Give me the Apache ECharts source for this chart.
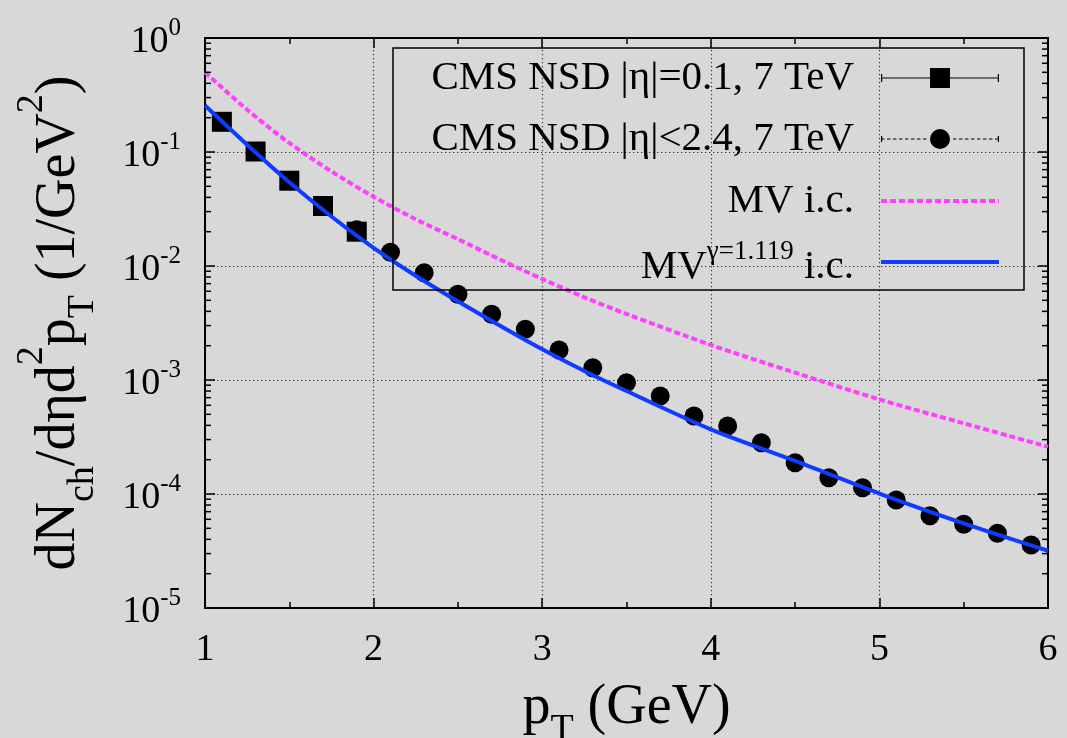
<!DOCTYPE html>
<html>
<head>
<meta charset="utf-8">
<script src="https://cdn.jsdelivr.net/npm/echarts@6/dist/echarts.min.js"></script>
<style>
html,body{margin:0;padding:0;background:#d8d8d8;}
#chart{width:1067px;height:738px;}
</style>
</head>
<body>
<div id="chart"></div>
<script>
// ---- data ----
const squareX = [1.1, 1.3, 1.5, 1.7, 1.9];
const squareY = [0.184, 0.101, 0.056, 0.0336, 0.020];

const circleX = [1.9, 2.1, 2.3, 2.5, 2.7, 2.9, 3.1, 3.3, 3.5, 3.7, 3.9, 4.1, 4.3, 4.5, 4.7, 4.9, 5.1, 5.3, 5.5, 5.7, 5.9];
const circleY = [0.0208, 0.0132, 0.00873, 0.00565, 0.00377, 0.00279, 0.00183, 0.00128, 0.000948, 0.000724,
                 0.000483, 0.000395, 0.000282, 0.000188, 0.000139, 0.0001135, 0.0000885, 0.0000645,
                 0.0000542, 0.0000452, 0.0000357];

const curveX = [1.0, 1.25, 1.5, 1.75, 2.0, 2.25, 2.5, 2.75, 3.0, 3.25, 3.5, 4.0, 4.5, 5.0, 5.5, 6.0];
const mvY = [0.50, 0.235, 0.12, 0.0676, 0.0405, 0.0257, 0.0172, 0.0114, 0.0077, 0.00531, 0.0038,
             0.00203, 0.00116, 0.000676, 0.000417, 0.00026];
const mvGammaY = [0.256, 0.116, 0.0543, 0.0272, 0.01445, 0.00822, 0.0049, 0.00299, 0.00186, 0.0012, 0.00080,
                  0.000369, 0.000195, 0.000101, 0.0000553, 0.0000318];

const yMinorMultipliers = [2, 3, 4, 5, 6, 7, 8, 9];
const yDecades = [-5, -4, -3, -2, -1];

const seriesNames = [
  'CMS NSD |η|=0.1, 7 TeV',
  'CMS NSD |η|<2.4, 7 TeV',
  'MV i.c.',
  'MV^γ i.c.'
];

// ---- helpers ----
const zip = (xs, ys) => xs.map((x, i) => [x, ys[i]]);
const FONT = 'Liberation Serif';

const minorTickValues = [];
yDecades.forEach(d => yMinorMultipliers.forEach(m => minorTickValues.push([1, m * Math.pow(10, d)])));

function solidBarIcon() {
  return 'path://M0,9.4h118v1.2H0z M0,6h1.2v8H0z M116.8,6h1.2v8h-1.2z M49,0h20v20H49z';
}
function dashedBarIcon() {
  let p = 'M0,7h1.2v6H0z M116.8,7h1.2v6h-1.2z ';
  for (let x = 0; x < 118; x += 6) {
    const w = Math.min(3.5, 118 - x);
    if (x + w < 49 || x > 69) p += 'M' + x + ',9.4h' + w + 'v1.2H' + x + 'z ';
  }
  p += 'M49,10A10,10 0 1 1 69,10A10,10 0 1 1 49,10Z';
  return 'path://' + p;
}
function solidLineIcon() {
  return 'path://M0,0h118v4H0z';
}
function dashedLineIcon() {
  let p = '';
  for (let x = 0; x < 118; x += 9) {
    const w = Math.min(6, 118 - x);
    p += 'M' + x + ',0h' + w + 'v4H' + x + 'z ';
  }
  return 'path://' + p;
}

const axisLineStyle = {color: '#000', width: 2};
const tickStyle = {color: '#000', width: 1.5};
const gridStyle = {color: '#333', width: 1.2, type: [1.3, 2.7]};

const baseLegend = {
  orient: 'horizontal',
  align: 'right',
  right: 68,
  padding: 0,
  itemWidth: 118,
  itemHeight: 4,
  selectedMode: false,
  textStyle: {fontFamily: FONT, fontSize: 41, color: '#000', lineHeight: 44, padding: [0, 22, 0, 0]}
};

const option = {
  backgroundColor: '#d8d8d8',
  animation: false,
  grid: {left: 205, right: 19, top: 38, bottom: 130, containLabel: false, outerBoundsMode: 'none'},
  legend: [
    Object.assign({}, baseLegend, {top: 56, itemHeight: 20,
      data: [{name: seriesNames[0], icon: solidBarIcon()}]}),
    Object.assign({}, baseLegend, {top: 117, itemHeight: 20,
      data: [{name: seriesNames[1], icon: dashedBarIcon()}]}),
    Object.assign({}, baseLegend, {top: 179,
      data: [{name: seriesNames[2], icon: dashedLineIcon()}]}),
    Object.assign({}, baseLegend, {top: 235,
      data: [{name: seriesNames[3], icon: solidLineIcon()}],
      formatter: () => 'MV{sup|γ=1.119} i.c.',
      textStyle: {fontFamily: FONT, fontSize: 41, color: '#000', lineHeight: 44, padding: [10, 22, 0, 0],
        rich: {sup: {fontFamily: FONT, fontSize: 27, color: '#000', lineHeight: 13, height: 13, verticalAlign: 'top'}}}
    })
  ],
  graphic: [{
    type: 'rect', z: 100, silent: true,
    shape: {x: 393, y: 48, width: 631, height: 242},
    style: {fill: 'none', stroke: '#000', lineWidth: 1.5}
  }],
  xAxis: [{
    type: 'value', min: 1, max: 6, interval: 1, position: 'bottom',
    axisLine: {show: true, onZero: false, lineStyle: axisLineStyle},
    axisTick: {show: true, inside: true, length: 10, lineStyle: tickStyle},
    minorTick: {show: true, splitNumber: 2, length: 6, lineStyle: tickStyle},
    splitLine: {show: true, lineStyle: gridStyle},
    axisLabel: {fontFamily: FONT, fontSize: 38, color: '#000', margin: 20, lineHeight: 44},
    name: 'p{sub|T} (GeV)', nameLocation: 'middle', nameGap: 70,
    nameTextStyle: {fontFamily: FONT, fontSize: 56, color: '#000', lineHeight: 60,
      rich: {sub: {fontFamily: FONT, fontSize: 38, color: '#000', lineHeight: 16, height: 16, verticalAlign: 'bottom'}}}
  }, {
    type: 'value', min: 1, max: 6, interval: 1, position: 'top',
    axisLine: {show: true, onZero: false, lineStyle: axisLineStyle},
    axisTick: {show: true, inside: true, length: 10, lineStyle: tickStyle},
    minorTick: {show: true, splitNumber: 2, length: 6, lineStyle: tickStyle},
    splitLine: {show: false},
    axisLabel: {show: false}
  }],
  yAxis: [{
    type: 'log', logBase: 10, min: 1e-5, max: 1, position: 'left',
    axisLine: {show: true, onZero: false, lineStyle: axisLineStyle},
    axisTick: {show: true, inside: true, length: 10, lineStyle: tickStyle},
    splitLine: {show: true, lineStyle: gridStyle},
    axisLabel: {
      margin: 24, padding: [8, 0, 0, 0],
      formatter: v => '{b|10}{s|' + Math.round(Math.log10(v)) + '}',
      rich: {
        b: {fontFamily: FONT, fontSize: 38, color: '#000', lineHeight: 44},
        s: {fontFamily: FONT, fontSize: 25, color: '#000', lineHeight: 16, height: 16, verticalAlign: 'top'}
      }
    },
    name: 'dN{sub|ch}/dηd{sup|2}p{sub|T} (1/GeV{sup|2})',
    nameLocation: 'middle', nameRotate: 90, nameGap: 114,
    nameTextStyle: {fontFamily: FONT, fontSize: 56, color: '#000', lineHeight: 64,
      rich: {
        sub: {fontFamily: FONT, fontSize: 38, color: '#000', lineHeight: 16, height: 16, verticalAlign: 'bottom'},
        sup: {fontFamily: FONT, fontSize: 38, color: '#000', lineHeight: 11, height: 11, verticalAlign: 'top'}
      }}
  }, {
    type: 'log', logBase: 10, min: 1e-5, max: 1, position: 'right',
    axisLine: {show: true, onZero: false, lineStyle: axisLineStyle},
    axisTick: {show: true, inside: true, length: 10, lineStyle: tickStyle},
    splitLine: {show: false},
    axisLabel: {show: false}
  }],
  series: [{
    name: seriesNames[1], type: 'scatter', symbol: 'circle', symbolSize: 19,
    itemStyle: {color: '#000', opacity: 1}, data: zip(circleX, circleY)
  }, {
    name: seriesNames[0], type: 'scatter', symbol: 'rect', symbolSize: 20,
    itemStyle: {color: '#000', opacity: 1}, data: zip(squareX, squareY)
  }, {
    name: seriesNames[2], type: 'line', smooth: 0.3, symbol: 'none',
    itemStyle: {color: '#ff40ff'},
    lineStyle: {color: '#ff40ff', width: 4, type: [6, 3]},
    data: zip(curveX, mvY)
  }, {
    name: seriesNames[3], type: 'line', smooth: 0.3, symbol: 'none',
    itemStyle: {color: '#0f3cff'},
    lineStyle: {color: '#0f3cff', width: 4},
    data: zip(curveX, mvGammaY)
  }, {
    name: 'minor ticks', type: 'custom', silent: true, z: 5,
    data: minorTickValues,
    renderItem: function (params, api) {
      const v = api.value(1);
      const pL = api.coord([1, v]);
      const pR = api.coord([6, v]);
      return {type: 'group', children: [
        {type: 'line', shape: {x1: pL[0], y1: pL[1], x2: pL[0] + 6, y2: pL[1]}, style: {stroke: '#000', lineWidth: 1.5}},
        {type: 'line', shape: {x1: pR[0] - 6, y1: pR[1], x2: pR[0], y2: pR[1]}, style: {stroke: '#000', lineWidth: 1.5}}
      ]};
    }
  }]
};

const chart = echarts.init(document.getElementById('chart'), null, {renderer: 'canvas'});
chart.setOption(option);
</script>
</body>
</html>
